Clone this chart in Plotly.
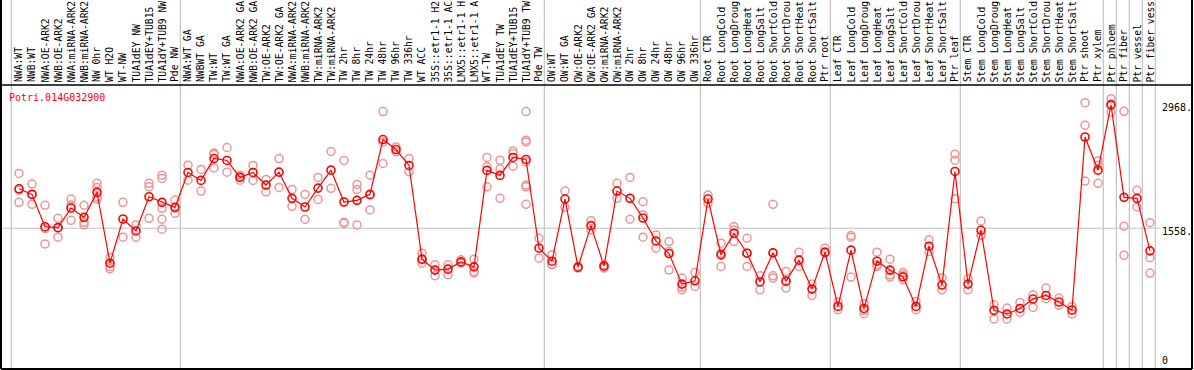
import plotly.graph_objects as go

labels = ["NWA:WT", "NWB:WT", "NWA:OE-ARK2", "NWB:OE-ARK2", "NWA:miRNA-ARK2", "NWB:miRNA-ARK2",
          "NW 0hr", "WT H2O", "WT-NW", "TUA1dEY NW", "TUA1dEY+TUB15 NW", "TUA1dY+TUB9 NW", "Pde NW",
          "NWA:WT GA", "NWBWT GA", "TW:WT", "TW:WT GA", "NWA:OE-ARK2 GA", "NWB:OE-ARK2 GA",
          "TW:OE-ARK2", "TW:OE-ARK2 GA", "NWA:miRNA-ARK2", "NWB:miRNA-ARK2", "TW:miRNA-ARK2",
          "TW:miRNA-ARK2", "TW 2hr", "TW 8hr", "TW 24hr", "TW 48hr", "TW 96hr", "TW 336hr", "WT ACC",
          "35S::etr1-1 H2O", "35S::etr1-1 ACC", "LMX5::etr1-1 H2O", "LMX5::etr1-1 ACC", "WT-TW",
          "TUA1dEY TW", "TUA1dEY+TUB15 TW", "TUA1dY+TUB9 TW", "Pde TW",
          "OW:WT", "OW:WT GA", "OW:OE-ARK2", "OW:OE-ARK2 GA", "OW:miRNA-ARK2", "OW:miRNA-ARK2",
          "OW 2hr", "OW 8hr", "OW 24hr", "OW 48hr", "OW 96hr", "OW 336hr",
          "Root CTR", "Root LongCold", "Root LongDrought", "Root LongHeat", "Root LongSalt",
          "Root ShortCold", "Root ShortDrought", "Root ShortHeat", "Root ShortSalt", "Ptr root",
          "Leaf CTR", "Leaf LongCold", "Leaf LongDrought", "Leaf LongHeat", "Leaf LongSalt",
          "Leaf ShortCold", "Leaf ShortDrought", "Leaf ShortHeat", "Leaf ShortSalt", "Ptr leaf",
          "Stem CTR", "Stem LongCold", "Stem LongDrought", "Stem LongHeat", "Stem LongSalt",
          "Stem ShortCold", "Stem ShortDrought", "Stem ShortHeat", "Stem ShortSalt",
          "Ptr shoot", "Ptr xylem", "Ptr phloem", "Ptr fiber", "Ptr vessel", "Ptr fiber vessel"]

means = [2009, 1945, 1576, 1565, 1789, 1683, 1968, 1159, 1664, 1527, 1918, 1854, 1797,
         2196, 2105, 2355, 2333, 2139, 2196, 2051, 2199, 1900, 1801, 2017, 2222, 1858, 1877, 1945,
         2572, 2458, 2276, 1205, 1080, 1091, 1174, 1117, 2219, 2162, 2367, 2344, 1330,
         1182, 1892, 1114, 1588, 1125, 1983, 1900, 1675, 1413, 1269, 920, 958,
         1892, 1254, 1501, 1273, 947, 1277, 954, 1194, 863, 1285,
         665, 1308, 642, 1182, 1080, 1003, 665, 1353, 909, 2207,
         920, 1535, 620, 579, 642, 749, 790, 715, 624, 2601, 2222, 2968, 1911, 1900, 1300]

replicates = [
    [2185, 1994, 1854], [2063, 1945, 1832], [1820, 1555, 1379], [1672, 1565, 1456],
    [1892, 1824, 1649], [1820, 1626, 1596], [2071, 2025, 1918, 1892], [1223, 1121, 1095],
    [1854, 1456], [1596, 1456], [2071, 2032, 1672], [2165, 2128, 1786, 1661, 1547],
    [1880, 1789, 1729],
    [2279, 2108], [2230, 1983], [2419, 2401, 2248], [2481, 2199], [2165, 2142, 2108],
    [2276, 2105], [2116, 1975], [2355, 2025], [2002, 1809], [1945, 1661], [2139, 1888],
    [2435, 2014], [2333, 1626, 1615], [2059, 2002, 1596], [2165, 1937, 1767],
    [2891, 2545, 2298], [2488, 2431], [2355, 2203], [1273, 1197, 1159], [1140, 1015],
    [1140, 1026], [1197, 1159], [1205, 1064, 1046], [2367, 2260, 2032], [2336, 2234, 1900],
    [2442, 2412, 2268], [2891, 2564, 2545, 2317, 2051, 2032, 1832], [1444, 1216],
    [1254, 1148, 1140], [1983, 1797], [1121, 1103], [1645, 1539], [1140, 1103], [2071, 1900],
    [2139, 1661], [1861, 1710, 1456], [1482, 1330], [1406, 1292, 1080], [989, 886, 855],
    [1052, 893],
    [1937, 1843], [1387, 1273, 1121], [1576, 1539, 1406], [1444, 1273, 1121], [1015, 855],
    [1832, 1015, 989], [1064, 950, 875], [1285, 1121], [920, 790], [1330, 1273],
    [715, 628], [1474, 1456, 1000], [696, 620, 582], [1285, 1140, 1121], [1205, 1026, 1000],
    [1052, 1026, 969], [722, 628], [1425, 1292], [989, 855], [2404, 2336, 1895],
    [981, 855], [1641, 1482, 1474], [684, 522], [647, 522], [711, 597], [798, 654],
    [875, 753], [761, 677], [665, 579], [2993, 2735, 2097], [2328, 2279, 2071],
    [3039, 2979, 2886], [2894, 1581, 1251], [1991, 1801], [1622, 1223, 1046],
]

group_starts = [0, 13, 41, 53, 63, 73, 84, 85, 86, 87, 88]
ytick_vals = [2968, 1558, 0]
ytick_text = ["2968.", "1558.", "0"]
title = "Potri.014G032900"
LABEL_CHARS = 14  # the header band only has room for this many characters

W, H = 1194, 370
ML, MR, MT, MB = 1, 2, 0, 1
PH = H - MT - MB
header_px = 85
ydom_top = (PH - header_px) / PH

FONT = "DejaVu Sans Mono"
GRAY = "#c3c3c3"

xs = list(range(len(labels)))
rx, ry = [], []
for i, vals in enumerate(replicates):
    for v in vals:
        rx.append(i)
        ry.append(v)

fig = go.Figure()
fig.add_trace(go.Scatter(x=rx, y=ry, mode="markers",
                         marker=dict(symbol="circle-open", size=8, color="rgb(236,150,150)",
                                     line=dict(width=1.5)),
                         hoverinfo="y", showlegend=False))
fig.add_trace(go.Scatter(x=xs, y=means, mode="lines+markers",
                         line=dict(color="#ff0000", width=1.2),
                         marker=dict(symbol="circle-open", size=8, color="#ff0000",
                                     line=dict(width=1.6)),
                         text=labels, hoverinfo="text+y", showlegend=False))

shapes = []
for k in group_starts:
    shapes.append(dict(type="line", xref="x", yref="paper", x0=k - 0.59, x1=k - 0.59,
                       y0=0, y1=1, line=dict(color=GRAY, width=1.2), layer="below"))
shapes.append(dict(type="line", xref="paper", yref="y", x0=0, x1=(1160 - ML) / (W - ML - MR),
                   y0=ytick_vals[1], y1=ytick_vals[1], line=dict(color=GRAY, width=1.2),
                   layer="below"))
# frame
shapes.append(dict(type="line", xref="paper", yref="paper", x0=0, x1=0, y0=0, y1=1,
                   line=dict(color="black", width=2)))
shapes.append(dict(type="line", xref="paper", yref="paper", x0=1, x1=1, y0=0, y1=1,
                   line=dict(color="black", width=2)))
shapes.append(dict(type="line", xref="paper", yref="paper", x0=0, x1=1, y0=0, y1=0,
                   line=dict(color="black", width=2)))
shapes.append(dict(type="line", xref="paper", yref="paper", x0=0, x1=1, y0=ydom_top,
                   y1=ydom_top, line=dict(color="black", width=1.5)))

annotations = []
lab_y = (PH - 83.5) / PH
for i, lab in enumerate(labels):
    annotations.append(dict(x=i, y=lab_y, xref="x", yref="paper", text=lab[:LABEL_CHARS],
                            textangle=-90, xanchor="center", yanchor="bottom", showarrow=False,
                            borderpad=0, font=dict(family=FONT, size=9.7, color="black")))
annotations.append(dict(x=(8 - ML) / (W - ML - MR), y=(PH - 91) / PH, xref="paper",
                        yref="paper", text=title, xanchor="left", yanchor="top",
                        showarrow=False, borderpad=0,
                        font=dict(family=FONT, size=10, color="#ff0000")))
yshifts = [4, 3, -2]
yanchors = ["top", "top", "bottom"]
for v, t, s, a in zip(ytick_vals, ytick_text, yshifts, yanchors):
    annotations.append(dict(x=(1161 - ML) / (W - ML - MR), y=v, xref="paper", yref="y",
                            text=t, xanchor="left", yanchor=a, yshift=s, showarrow=False,
                            borderpad=0, font=dict(family=FONT, size=10, color="black")))

x0 = -18 / 13
x1 = x0 + (W - ML - MR) / 13

fig.update_layout(
    width=W, height=H, autosize=False,
    margin=dict(l=ML, r=MR, t=MT, b=MB, pad=0),
    paper_bgcolor="white", plot_bgcolor="white",
    xaxis=dict(range=[x0, x1], showgrid=False, zeroline=False, showticklabels=False,
               showline=False, ticks=""),
    yaxis=dict(range=[-50, 3195], domain=[0, ydom_top], showgrid=False, zeroline=False,
               showticklabels=False, showline=False, ticks=""),
    shapes=shapes, annotations=annotations, showlegend=False,
)

fig.write_html("out.html", config={"displayModeBar": False},
               post_script="document.body.style.margin='0';document.body.style.overflow='hidden';")
